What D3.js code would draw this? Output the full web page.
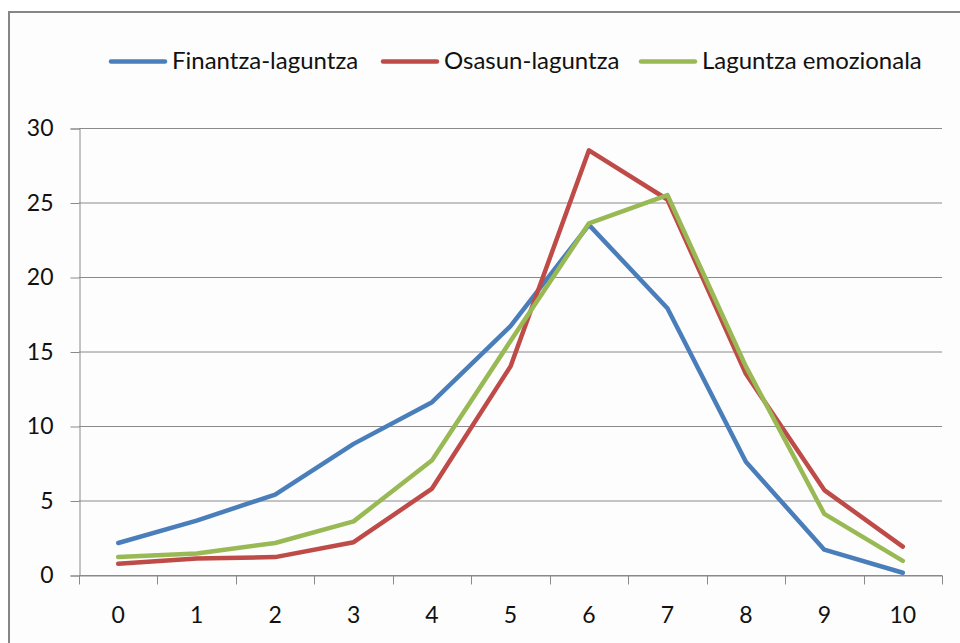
<!DOCTYPE html>
<html><head><meta charset="utf-8">
<script src="https://cdn.jsdelivr.net/npm/d3@7"></script>
<style>html,body{margin:0;padding:0;background:#fff;}svg{display:block;}</style>
</head><body>
<svg id="chart" width="960" height="643"></svg>
<script>
const categories = ["0","1","2","3","4","5","6","7","8","9","10"];
const seriesNames = ["Finantza-laguntza","Osasun-laguntza","Laguntza emozionala"];
const finantza = [2.15, 3.65, 5.4, 8.8, 11.6, 16.7, 23.5, 17.9, 7.6, 1.7, 0.15];
const osasun   = [0.75, 1.1, 1.2, 2.2, 5.8, 14.0, 28.5, 25.2, 13.5, 5.7, 1.9];
const emozio   = [1.2, 1.45, 2.15, 3.6, 7.7, 15.7, 23.6, 25.5, 14.0, 4.1, 0.95];
const yTicks = [0,5,10,15,20,25,30];
const colors = ["#4a7ebb","#be4b48","#98b954"];
const series = [finantza, osasun, emozio];

const svg = d3.select("#chart");
const font = "Lato, 'Open Sans', sans-serif";
const textColor = "#111";
// frame
svg.append("rect").attr("x",9).attr("y",12).attr("width",1000).attr("height",700)
  .attr("fill","#fdfdfd").attr("stroke","#868686").attr("stroke-width",2);

const mLeft = 79, mRight = 942, mTop = 128, mBottom = 575;
const x = d3.scaleBand().domain(categories).range([mLeft,mRight]);
const y = d3.scaleLinear().domain([0,30]).range([mBottom,mTop]);

// gridlines
svg.append("g").selectAll("line").data(yTicks).join("line")
  .attr("x1",mLeft).attr("x2",mRight).attr("y1",d=>y(d)+0.5).attr("y2",d=>y(d)+0.5)
  .attr("stroke","#8a8a8a").attr("stroke-width",1);

// y axis
const ya = svg.append("g").attr("transform",`translate(${mLeft+0.5},0.5)`)
  .call(d3.axisLeft(y).tickValues(yTicks).tickSize(9).tickPadding(17));
ya.select(".domain").attr("stroke","#8a8a8a");
ya.selectAll(".tick line").attr("stroke","#8a8a8a");
ya.selectAll("text").attr("font-family",font).attr("font-size",23).attr("fill",textColor);

// x axis
const xa = svg.append("g").attr("transform",`translate(0,${mBottom+0.5})`)
  .call(d3.axisBottom(x).tickSize(0).tickPadding(31));
xa.select(".domain").attr("stroke","#8a8a8a");
xa.selectAll("text").attr("font-family",font).attr("font-size",23).attr("fill",textColor);
const bounds = categories.map(c=>x(c)).concat([mRight]);
xa.append("g").selectAll("line").data(bounds).join("line")
  .attr("x1",d=>Math.round(d)+0.5).attr("x2",d=>Math.round(d)+0.5).attr("y1",0).attr("y2",9)
  .attr("stroke","#8a8a8a");

// lines
const line = d3.line().x((d,i)=>x(categories[i])+x.bandwidth()/2).y(d=>y(d));
series.forEach((s,i)=>{
  svg.append("path").datum(s).attr("d",line).attr("fill","none")
    .attr("stroke",colors[i]).attr("stroke-width",4.5)
    .attr("stroke-linejoin","round").attr("stroke-linecap","round");
});

// legend
const legX = [111, 383, 641];
const lg = svg.append("g");
seriesNames.forEach((n,i)=>{
  lg.append("line").attr("x1",legX[i]).attr("x2",legX[i]+54).attr("y1",61.5).attr("y2",61.5)
    .attr("stroke",colors[i]).attr("stroke-width",4.5).attr("stroke-linecap","round");
  lg.append("text").attr("x",legX[i]+61).attr("y",61).attr("dy","0.35em")
    .attr("font-family",font).attr("font-size",24).attr("fill",textColor).text(n);
});
</script>
</body></html>
